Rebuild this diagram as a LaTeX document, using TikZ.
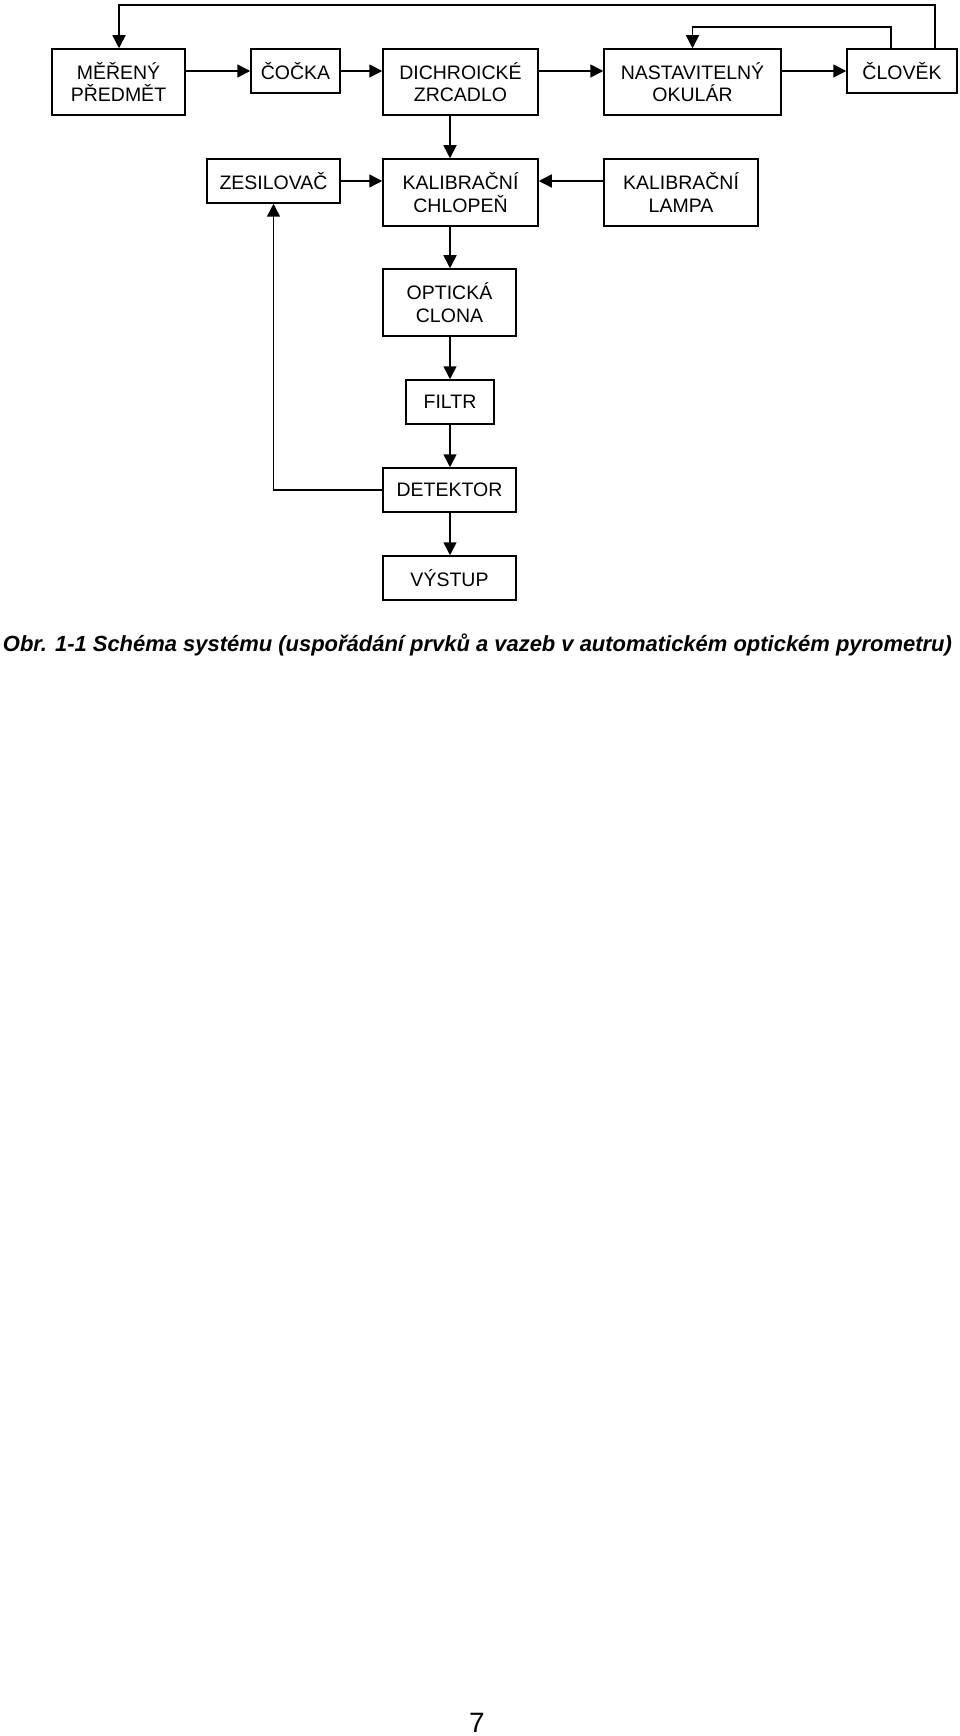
\documentclass[tikz,border=0pt]{standalone}
\usepackage{fontspec}
\setmainfont{Liberation Sans}
\usetikzlibrary{arrows.meta}
\tikzset{
  box/.style={draw, line width=1.5pt, inner sep=0pt, align=center,
    font=\fontsize{19.5}{22.5}\selectfont},
  conn/.style={line width=1.5pt},
  arr/.style={conn, -{Triangle[length=13pt,width=13pt]}}
}
\begin{document}
\begin{tikzpicture}[x=1pt,y=-1pt]
\useasboundingbox (0,0) rectangle (960,1736);
% row 1
\node[box, minimum width=133, minimum height=66] (m) at (118.5,82) {MĚŘENÝ\\PŘEDMĚT};
\node[box, minimum width=89, minimum height=44] (c) at (295.5,71) {ČOČKA};
\node[box, minimum width=155, minimum height=66] (d) at (460.5,82) {DICHROICKÉ\\ZRCADLO};
\node[box, minimum width=177, minimum height=66] (n) at (692.5,82) {NASTAVITELNÝ\\OKULÁR};
\node[box, minimum width=110, minimum height=44] (cl) at (902,71) {ČLOVĚK};
% row 2
\node[box, minimum width=133, minimum height=44] (z) at (273.5,181) {ZESILOVAČ};
\node[box, minimum width=155, minimum height=67] (k) at (460.5,192.5) {KALIBRAČNÍ\\CHLOPEŇ};
\node[box, minimum width=154, minimum height=67] (l) at (681,192.5) {KALIBRAČNÍ\\LAMPA};
% column
\node[box, minimum width=133, minimum height=67] (o) at (449.5,302.5) {OPTICKÁ\\CLONA};
\node[box, minimum width=88, minimum height=44] (f) at (450,402) {FILTR};
\node[box, minimum width=133, minimum height=44] (det) at (449.5,490) {DETEKTOR};
\node[box, minimum width=133, minimum height=44] (v) at (449.5,578) {VÝSTUP};
% row 1 arrows
\draw[arr] (m.east |- c) -- (c.west);
\draw[arr] (c.east) -- (d.west |- c);
\draw[arr] (d.east |- c) -- (n.west |- c);
\draw[arr] (n.east |- cl) -- (cl.west);
% feedback loops
\coordinate (t1) at (935,5);
\coordinate (t2) at (119,5);
\draw[arr] (cl.north -| t1) -- (t1) -- (t2) -- (m.north -| t2);
\coordinate (u1) at (891,27);
\coordinate (u2) at (692.5,27);
\draw[arr] (cl.north -| u1) -- (u1) -- (u2) -- (n.north -| u2);
% row 2 arrows
\draw[arr] (z.east) -- (k.west |- z);
\draw[arr] (l.west |- z) -- (k.east |- z);
% vertical chain
\coordinate (vx) at (450,0);
\draw[arr] (d.south -| vx) -- (k.north -| vx);
\draw[arr] (k.south -| vx) -- (o.north -| vx);
\draw[arr] (o.south -| vx) -- (f.north -| vx);
\draw[arr] (f.south -| vx) -- (det.north -| vx);
\draw[arr] (det.south -| vx) -- (v.north -| vx);
% detector feedback
\coordinate (w1) at (273.5,490);
\draw[arr] (det.west) -- (w1) -- (z.south);
% caption
\node[anchor=base, inner sep=0pt] (cap) at (477.5,651)
  {\resizebox{949pt}{!}{\fontsize{22}{26}\selectfont\bfseries\itshape Obr. 1-1 Schéma systému (uspořádání prvků a vazeb v automatickém optickém pyrometru)}};
\node[anchor=base, inner sep=0pt, font=\fontsize{28}{32}\selectfont] (pg) at (477,1732) {7};
\end{tikzpicture}
\end{document}
